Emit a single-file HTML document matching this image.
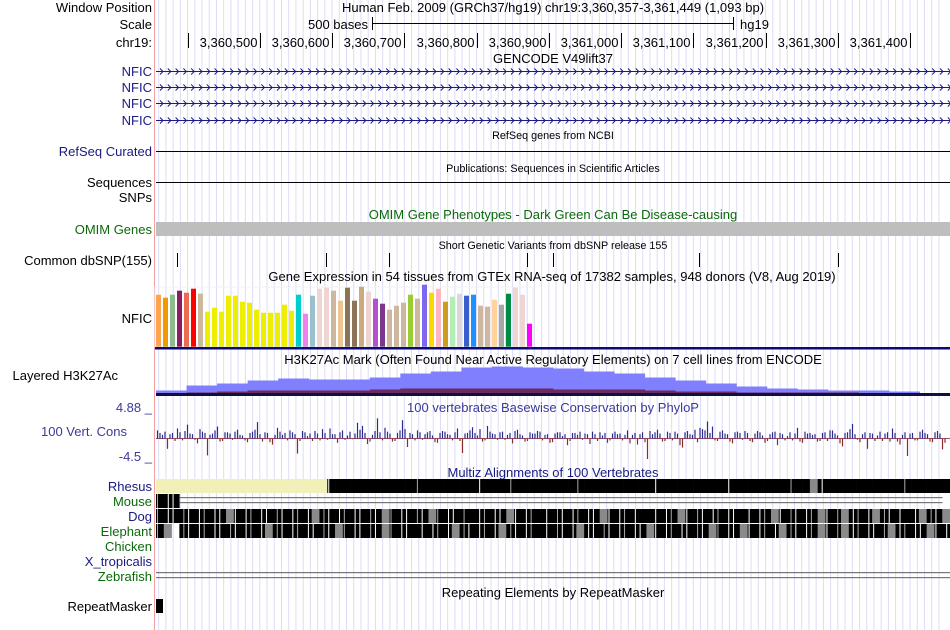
<!DOCTYPE html>
<html><head><meta charset="utf-8"><style>
html,body{margin:0;padding:0;background:#fff}
svg{display:block;font-family:"Liberation Sans",sans-serif}
.l{font-size:13px;text-anchor:end}
.t{font-size:13px;text-anchor:middle}
.s{font-size:10.8px;text-anchor:middle}
</style></head><body>
<svg id="c" width="950" height="630" viewBox="0 0 950 630">
<g id="grid"></g>
<line x1="154.5" y1="0" x2="154.5" y2="630" stroke="#f4a0a0"/>
<g>
<text class="l" x="152" y="12">Window Position</text>
<text class="l" x="152" y="29">Scale</text>
<text class="l" x="152" y="47">chr19:</text>
<text class="l" x="152" y="76" fill="#1a1a80">NFIC</text>
<text class="l" x="152" y="92" fill="#1a1a80">NFIC</text>
<text class="l" x="152" y="108" fill="#1a1a80">NFIC</text>
<text class="l" x="152" y="125" fill="#1a1a80">NFIC</text>
<text class="l" x="152" y="156" fill="#1a1a80">RefSeq Curated</text>
<text class="l" x="152" y="187">Sequences</text>
<text class="l" x="152" y="202">SNPs</text>
<text class="l" x="152" y="234" fill="#0a6a0a">OMIM Genes</text>
<text class="l" x="152" y="265">Common dbSNP(155)</text>
<text class="l" x="152" y="323">NFIC</text>
<text class="l" x="118" y="380">Layered H3K27Ac</text>
<text class="l" x="152" y="412" fill="#3a3a9a">4.88 _</text>
<text class="l" x="127" y="436" fill="#3a3a9a">100 Vert. Cons</text>
<text class="l" x="152" y="461" fill="#3a3a9a">-4.5 _</text>
<text class="l" x="152" y="491" fill="#1a1a80">Rhesus</text>
<text class="l" x="152" y="506" fill="#0a6a0a">Mouse</text>
<text class="l" x="152" y="521" fill="#1a1a80">Dog</text>
<text class="l" x="152" y="536" fill="#0a6a0a">Elephant</text>
<text class="l" x="152" y="551" fill="#0a6a0a">Chicken</text>
<text class="l" x="152" y="566" fill="#1a1a80">X_tropicalis</text>
<text class="l" x="152" y="581" fill="#0a6a0a">Zebrafish</text>
<text class="l" x="152" y="611">RepeatMasker</text>
</g>
<g>
<text class="t" x="553" y="12">Human Feb. 2009 (GRCh37/hg19)   chr19:3,360,357-3,361,449 (1,093 bp)</text>
<text x="368" y="29" style="font-size:13px;text-anchor:end">500 bases</text>
<line x1="372" y1="23.5" x2="733" y2="23.5" stroke="#000"/>
<line x1="372.5" y1="17" x2="372.5" y2="30" stroke="#000"/>
<line x1="733.5" y1="17" x2="733.5" y2="30" stroke="#000"/>
<text x="740" y="29" style="font-size:13px">hg19</text>
<text class="t" x="553" y="63">GENCODE V49lift37</text>
<text class="s" x="553" y="139">RefSeq genes from NCBI</text>
<text class="s" x="553" y="172">Publications: Sequences in Scientific Articles</text>
<text class="t" x="553" y="219" fill="#0a6a0a">OMIM Gene Phenotypes - Dark Green Can Be Disease-causing</text>
<text class="s" x="553" y="249">Short Genetic Variants from dbSNP release 155</text>
<text class="t" x="552" y="281">Gene Expression in 54 tissues from GTEx RNA-seq of 17382 samples, 948 donors (V8, Aug 2019)</text>
<text class="t" x="553" y="364">H3K27Ac Mark (Often Found Near Active Regulatory Elements) on 7 cell lines from ENCODE</text>
<text class="t" x="553" y="412" fill="#3a3a9a">100 vertebrates Basewise Conservation by PhyloP</text>
<text class="t" x="553" y="477" fill="#1a1a80">Multiz Alignments of 100 Vertebrates</text>
<text class="t" x="553" y="597">Repeating Elements by RepeatMasker</text>
</g>
<g id="ruler"></g>
<g id="genes"></g>
<line x1="156" y1="151.5" x2="950" y2="151.5" stroke="#000"/>
<line x1="156" y1="182.5" x2="950" y2="182.5" stroke="#000"/>
<rect x="156" y="222" width="794" height="14" fill="#bebebe"/>
<g id="snps"></g>
<g id="gtex"></g>
<g id="h3k"></g>
<g id="cons"></g>
<g id="multiz"></g>
<rect x="156" y="599" width="7" height="14" fill="#000"/>
</svg>
<script>
var NS="http://www.w3.org/2000/svg";
function mk(tag,parent,attrs){var e=document.createElementNS(NS,tag);for(var k in attrs)e.setAttribute(k,attrs[k]);parent.appendChild(e);return e;}
// ---- data ----
var viewStart=3360357, viewEnd=3361449;
var rulerTicks=[3360400,3360500,3360600,3360700,3360800,3360900,3361000,3361100,3361200,3361300,3361400];
var rulerLabels=["","3,360,500","3,360,600","3,360,700","3,360,800","3,360,900","3,361,000","3,361,100","3,361,200","3,361,300","3,361,400"];
var snpPositions=[3360385,3360592,3360679,3360870,3360906,3361108,3361300];
var gtexValues=[52,49,52,56,54,58,53,35,39,35,51,51,45,44,37,34,34,34,42,36,52,33,51,58,59,56,46,59,46,60,55,48,43,37,41,44,52,48,62,54,58,45,50,53,51,52,41,40,47,42,53,59,52,23];
var gtexColors=["#ffa54f","#ee9a00","#8fbc8f","#8b1c62","#ee6a50","#ff0000","#cdb79e","#eeee00","#eeee00","#eeee00","#eeee00","#eeee00","#eeee00","#eeee00","#eeee00","#eeee00","#eeee00","#eeee00","#eeee00","#eeee00","#00cdcd","#ee82ee","#9ac0cd","#eed5d2","#eed5d2","#cdb79e","#eec591","#8b7355","#8b7355","#cdaa7d","#eed5d2","#b452cd","#7a378b","#cdb79e","#cdb79e","#cdb79e","#9acd32","#cdb79e","#7b68ee","#ffd700","#ffb6c1","#cd9b1d","#b4eeb4","#d9d9d9","#3a5fcd","#1e90ff","#cdb79e","#cdb79e","#ffd39b","#a6a6a6","#008b45","#eed5d2","#eed5d2","#ff00ff"];
var h3kBlue=[5,10,12,15,17,16,16,18,22,24,28,29,28,27,24,22,18,15,12,9,7,6,5,5,4,2];
var h3kRed=[2,3,4,5,5,5,5,6,7,7,7,7,7,6,6,6,5,4,4,3,3,3,3,2,2,1];
var phylop=[1.2,0.5,-1.8,0.8,1.5,-0.4,2.1,0.6,-0.9,1.0,-2.9,0.7,1.8,-0.5,0.9,-0.3,1.3,0.4,-0.7,1.0,2.5,-0.6,0.8,-1.1,1.6,0.5,-0.4,0.9,-2.6,1.1,0.3,-0.5,0.7,1.4,-0.3,0.6,-0.8,1.2,0.4,-0.2,2.4,1.9,-1.0,0.5,3.1,-0.4,1.0,-0.6,0.8,2.8,-1.5,0.6,1.2,-0.3,0.9,0.4,-0.8,1.1,0.6,-0.4,1.5,-2.5,0.8,1.7,0.4,-0.6,1.9,0.7,-0.3,1.0,0.5,-0.9,1.3,0.4,-0.5,0.7,1.1,-0.4,0.6,-0.7,0.9,0.3,-1.2,0.8,0.5,-0.3,0.6,1.0,-0.5,0.4,-0.8,0.7,0.6,-0.4,1.2,0.5,-1.1,0.9,-3.5,0.6,1.3,-0.6,1.0,-0.4,0.7,-1.6,1.1,0.5,-0.7,1.4,2.6,1.8,-0.5,1.2,0.6,-0.9,1.0,-0.3,0.8,-0.7,1.1,0.4,-0.5,0.9,-1.2,0.6,0.3,-0.4,1.6,-0.8,0.7,0.5,-0.6,0.8,-0.5,1.2,0.4,-1.4,0.9,2.2,-0.3,0.6,-1.8,0.7,0.4,-0.5,0.9,1.5,-0.6,0.5,-3.0,0.8,-0.4,1.3,0.6,-0.7,1.1,-1.9];
var phylopB=[0.8,1.0,0.6,-0.5,0.9,1.1,0.7,-0.3,1.4,0.8,0.5,1.2,-0.6,0.9,0.7,1.0,0.5,-0.4,0.8,1.3,0.6,0.9,-0.7,0.5,1.0,0.8,1.2,0.6,-0.5,0.9,0.7,1.1,-0.4,0.8,1.5,0.6,0.9,-0.3,1.0,0.7,1.3,0.8,-0.6,1.1,0.9,1.6,0.7,-0.5,1.2,1.4,0.8,-0.4,0.9,0.6,1.1,-0.7,0.8,1.0,0.5,0.9,-0.5,0.7,1.2,0.8,1.4,-0.4,1.0,0.6,0.9,-0.3,0.8,1.1,0.6,-0.6,0.9,0.7,1.0,0.5,-0.8,0.7,0.9,0.6,-0.5,0.8,1.0,0.7,-1.0,0.6,0.9,0.8,-0.4,1.0,0.7,0.5,-0.9,0.8,0.6,-0.7,1.1,0.9,0.7,-0.5,0.8,1.0,-1.2,0.9,0.6,1.3,1.6,1.2,0.8,-0.4,1.0,0.7,-0.6,0.9,0.8,1.1,-0.5,0.7,0.9,-0.8,0.6,1.0,0.8,-0.4,0.9,0.7,-0.6,1.0,0.8,0.6,-0.5,0.9,1.2,0.7,-0.9,0.8,1.4,0.6,-0.7,0.9,0.8,-0.5,1.0,0.7,-0.6,0.8,-1.1,0.9,0.7,-0.4,1.0,0.8,-0.6,0.9,0.7,-0.8];
var multizRows=[
 {y:479,s:"YYYYYYYYYYYYYYYYYYYYYYsBBBBBBBBBBsBBBBBBBsBBBsBBBBBBBBsBBBBBBBBBsBBBBBBBBsBBBBBBBsBBgsBBBBBBBBBBsBBBBBBBs"},
 {y:494,s:"sssllllllllllllllllllllllllllllllllllllllllllllllllllllllllllllllllllllllllllllllllllllllllllllllllll"},
 {y:509,s:"sssssssssgssssssssssgssssssssgsssssgssssBssssgsssBsssssssgssssBBsssgsssssssBsssgsssssgssgsssgsssBsgssgs"},
 {y:524,s:"sgwsssssssssssgssssssssgsssssgsssBssssgsssssgssssBssssgssssssssgsssssssgsssgssssgssssgssgsssssgssssgsss"},
 {y:569,s:"llllllllllllllllllllllllllllllllllllllllllllllllllllllllllllllllllllllllllllllllllllllllllllllllllllll"}
];
var x0=156.5, pxPerBp=0.7225;
function xScale(bp){return x0+(bp-viewStart)*pxPerBp;}
function yCons(v){return 438+(v>0?-v*31/4.88:-v*27/4.5);}
var grid=document.getElementById('grid');
for(var b=3360360;b<=viewEnd;b+=10){
 var gl=mk('line',grid,{x1:xScale(b),x2:xScale(b),y1:0,y2:630,stroke:'#dcdcf8','stroke-width':1});
 
 
}
var ruler=document.getElementById('ruler');
rulerTicks.forEach(function(t,i){
 var x=Math.round(xScale(t))+0.5;
 var tk=mk('line',ruler,{x1:x,x2:x,y1:33,y2:48,stroke:'#000'});
 
 
 var tl=mk('text',ruler,{x:x-3,y:47,'font-size':'13px','text-anchor':'end'});
 tl.textContent=rulerLabels[i];
 
 
});
var genes=document.getElementById('genes');
[71,87,103,120].forEach(function(y){
 var g=mk('g',genes,{});
 
 
 mk('line',g,{x1:156,x2:950,y1:y+0.5,y2:y+0.5,stroke:'#1a1a80'});
 var d="";
 for(var x=160;x<950;x+=7.8){d+="M"+x+" "+(y-2.5)+"L"+(x+3)+" "+(y+0.5)+"L"+x+" "+(y+3.5);}
 mk('path',g,{d:d,stroke:'#1a1a80',fill:'none','stroke-width':1});
});
var snps=document.getElementById('snps');
snpPositions.forEach(function(p){
 var x=Math.round(xScale(p))+0.5;
 var s=mk('line',snps,{x1:x,x2:x,y1:253,y2:267,stroke:'#000'});
 
 
});
var gtex=document.getElementById('gtex');
mk('rect',gtex,{x:155,y:287,width:378,height:60,fill:'none',stroke:'#f0f0f0'});
gtexValues.forEach(function(v,i){
 var r=mk('rect',gtex,{x:156+i*7,y:346.7-v,width:5,height:v,fill:gtexColors[i]});
 
 
});
var gb=mk('rect',gtex,{x:155,y:347,width:795,height:2.5,fill:'#0a0a78'});


var h3k=document.getElementById('h3k');
var stepW=794/h3kBlue.length;
h3kBlue.forEach(function(h,i){
 var r=mk('rect',h3k,{x:156+i*stepW,y:395.5-h,width:stepW+0.5,height:h,fill:'#8080ff'});
 
 
});
h3kRed.forEach(function(h,i){
 var r=mk('rect',h3k,{x:156+i*stepW,y:395.5-h,width:stepW+0.5,height:h,fill:'#6a2a60'});
 
 
});
mk('rect',h3k,{x:156,y:393,width:794,height:3,fill:'#101040'});
var cons=document.getElementById('cons');
mk('line',cons,{x1:156,x2:950,y1:438.5,y2:438.5,stroke:'#9a5060','stroke-width':1});
var cw=790/phylop.length;
function drawCons(arr,off){
 arr.forEach(function(v,i){
  var x=157.5+i*cw+off, y=yCons(v);
  var l=mk('line',cons,{x1:x,x2:x,y1:438.5,y2:y,stroke:v>0?'#2a2a90':'#8b2a2a','stroke-width':1.2});
  
  
 });
}
drawCons(phylop,0);
drawCons(phylopB,2.5);
var multiz=document.getElementById('multiz');
var mw=794/102;
multizRows.forEach(function(row){
 var g=mk('g',multiz,{});
 
 
 for(var i=0;i<row.s.length;i++){
  var c=row.s[i], x=156+i*mw;
  if(c==='Y')mk('rect',g,{x:x,y:row.y,width:mw+0.3,height:14,fill:'#f0f0b8'});
  else if(c==='B')mk('rect',g,{x:x,y:row.y,width:mw+0.3,height:14,fill:'#000'});
  else if(c==='g')mk('rect',g,{x:x,y:row.y,width:mw+0.3,height:14,fill:'#8a8a8a'});
  else if(c==='s'){mk('rect',g,{x:x,y:row.y,width:mw+0.3,height:14,fill:'#000'});mk('rect',g,{x:x+(i*3%6)+1,y:row.y,width:1,height:14,fill:(i%3?'#fff':'#aaa')});}
  else if(c==='l'){mk('rect',g,{x:x,y:row.y+3,width:mw+0.3,height:1.2,fill:'#777'});mk('rect',g,{x:x,y:row.y+8,width:mw+0.3,height:1.2,fill:'#777'});}
 }
});
</script>
</body></html>
